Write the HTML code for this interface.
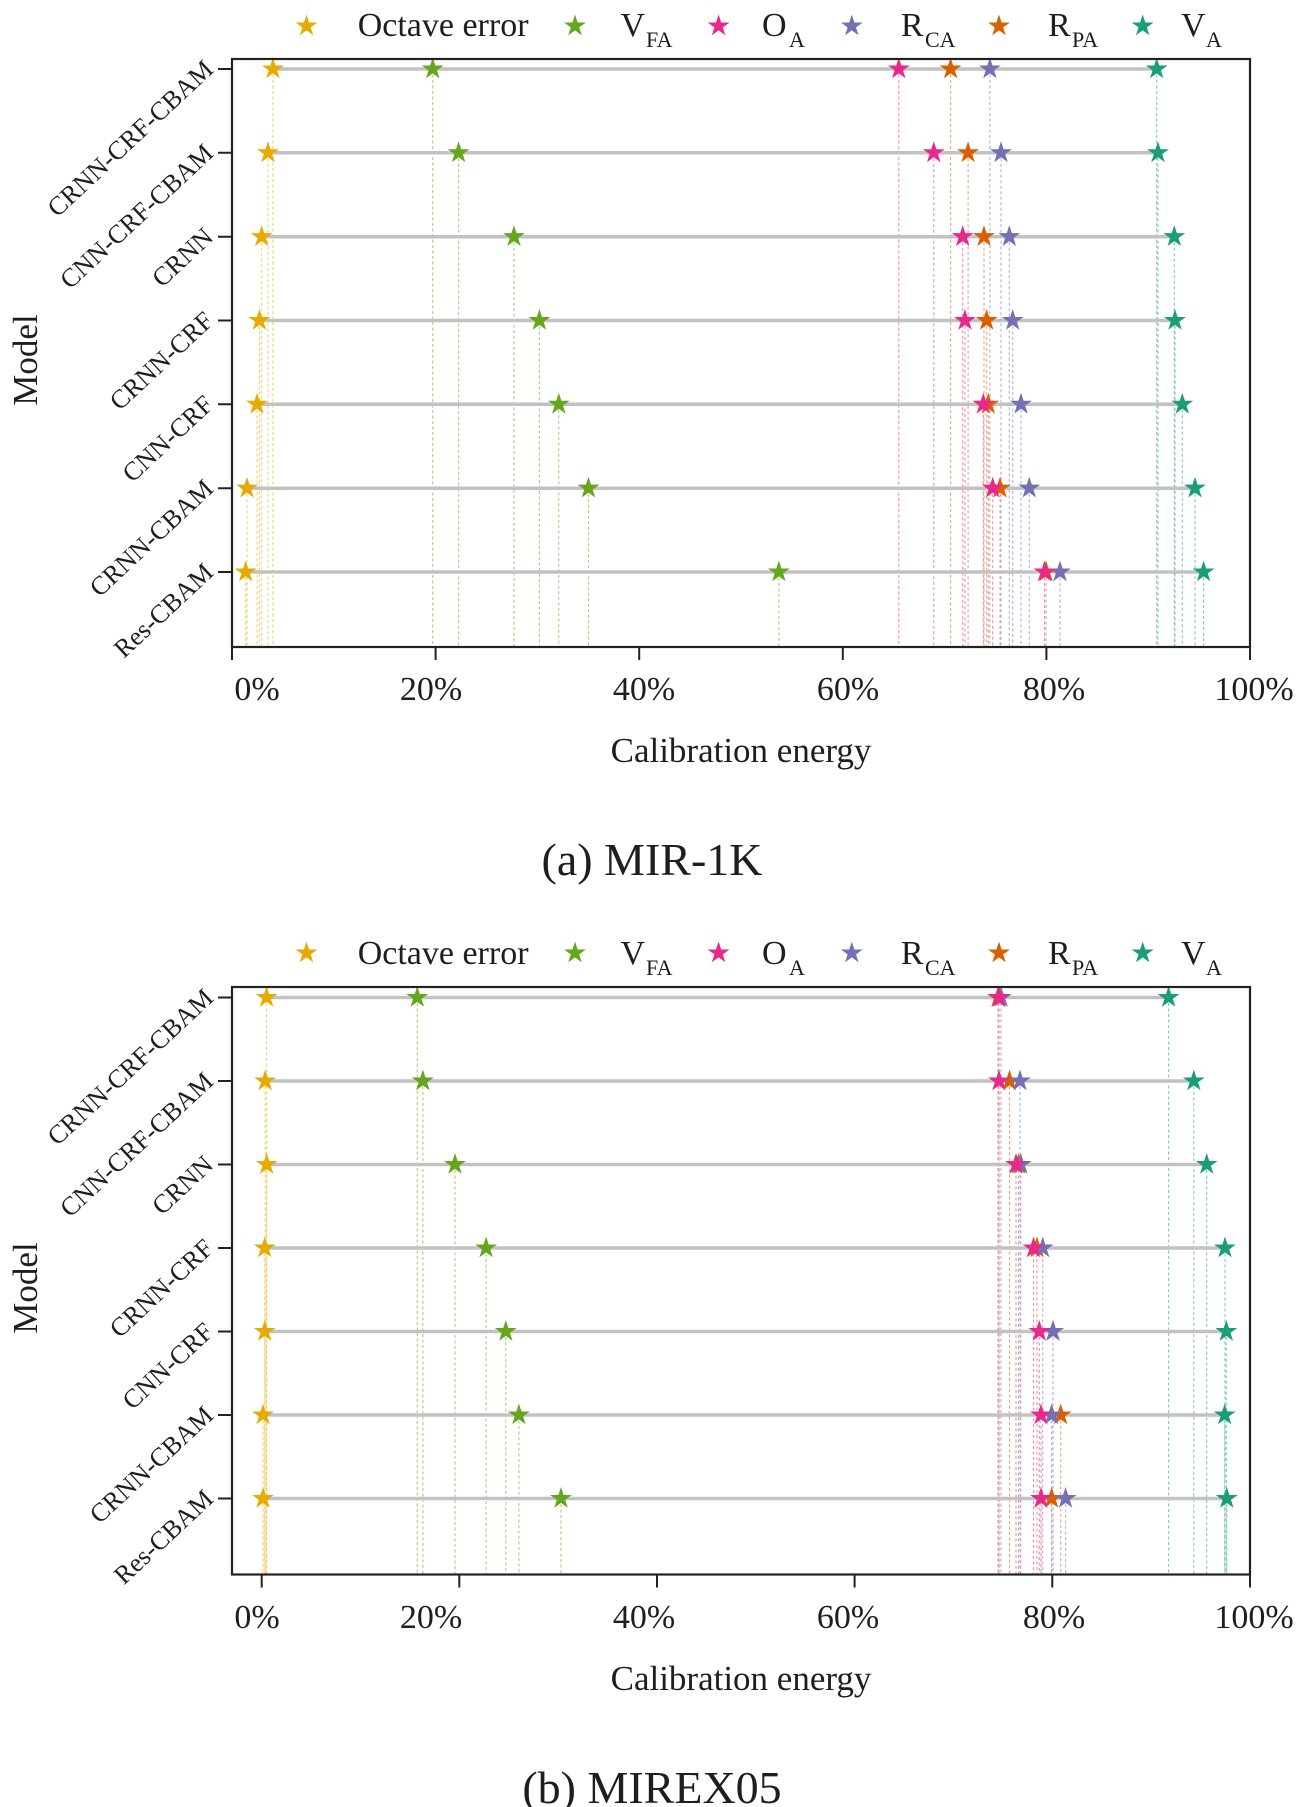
<!DOCTYPE html>
<html>
<head>
<meta charset="utf-8">
<style>
html,body{margin:0;padding:0;background:#fff;}
body{width:1299px;height:1807px;overflow:hidden;}
svg{display:block;}
text{font-family:"Liberation Serif","Times New Roman",serif;fill:#1e1e1e;}
</style>
</head>
<body>
<svg width="1299" height="1807" viewBox="0 0 1299 1807" xmlns="http://www.w3.org/2000/svg" xmlns:xlink="http://www.w3.org/1999/xlink">
<defs>
<polygon id="s" points="0,-11.5 2.582,-3.554 10.938,-3.554 4.178,1.357 6.76,9.304 0,4.393 -6.76,9.304 -4.178,1.357 -10.938,-3.554 -2.582,-3.554"/>
</defs>
<rect x="0" y="0" width="1299" height="1807" fill="#fff"/>

<!-- ================= PLOT A ================= -->
<g>
<g>
<use href="#s" xlink:href="#s" x="306.5" y="26" fill="#e6ab02"/>
<use href="#s" xlink:href="#s" x="575" y="26" fill="#66a61e"/>
<use href="#s" xlink:href="#s" x="718.6" y="26" fill="#e7298a"/>
<use href="#s" xlink:href="#s" x="851.8" y="26" fill="#7570b3"/>
<use href="#s" xlink:href="#s" x="999" y="26" fill="#d95f02"/>
<use href="#s" xlink:href="#s" x="1142.7" y="26" fill="#1b9e77"/>
<text x="357.7" y="36" font-size="34">Octave error</text>
<text x="620.5" y="36" font-size="34">V</text><text x="646" y="47" font-size="22">FA</text>
<text x="762" y="36" font-size="34">O</text><text x="789" y="47" font-size="22">A</text>
<text x="900.9" y="36" font-size="34">R</text><text x="925" y="47" font-size="22">CA</text>
<text x="1048" y="36" font-size="34">R</text><text x="1072" y="47" font-size="22">PA</text>
<text x="1181" y="36" font-size="34">V</text><text x="1206" y="47" font-size="22">A</text>
</g>

<g fill="none" stroke-width="1.1" stroke-dasharray="3 2.5" opacity="0.55">
<path stroke="#e6ab02" d="M272.9 69V647M268 152.8V647M261.7 236.7V647M259.4 320.5V647M257 404.3V647M247 488.2V647M245.7 572V647"/>
<path stroke="#66a61e" d="M432.7 69V647M458.6 152.8V647M514 236.7V647M539.4 320.5V647M558.8 404.3V647M588.5 488.2V647M778.9 572V647"/>
<path stroke="#e7298a" d="M898.8 69V647M933.8 152.8V647M962.7 236.7V647M965 320.5V647M983.3 404.3V647M992.7 488.2V647M1044.5 572V647"/>
<path stroke="#d95f02" d="M950.6 69V647M968.1 152.8V647M984 236.7V647M986.7 320.5V647M988.3 404.3V647M1000 488.2V647M1046 572V647"/>
<path stroke="#7570b3" d="M989.9 69V647M1001 152.8V647M1009.3 236.7V647M1012.7 320.5V647M1021 404.3V647M1029.3 488.2V647M1060 572V647"/>
<path stroke="#1b9e77" d="M1156.7 69V647M1158 152.8V647M1174.3 236.7V647M1175 320.5V647M1182.3 404.3V647M1195 488.2V647M1203.6 572V647"/>
</g>

<path fill="none" stroke="#c2c2c2" stroke-width="3.5" d="M272.9 69H1156.7M268 152.8H1158M261.7 236.7H1174.3M259.4 320.5H1175M257 404.3H1182.3M247 488.2H1195M245.7 572H1203.6"/>

<g fill="#e6ab02">
<use href="#s" xlink:href="#s" x="272.9" y="69"/><use href="#s" xlink:href="#s" x="268" y="152.8"/><use href="#s" xlink:href="#s" x="261.7" y="236.7"/><use href="#s" xlink:href="#s" x="259.4" y="320.5"/><use href="#s" xlink:href="#s" x="257" y="404.3"/><use href="#s" xlink:href="#s" x="247" y="488.2"/><use href="#s" xlink:href="#s" x="245.7" y="572"/>
</g>
<g fill="#66a61e">
<use href="#s" xlink:href="#s" x="432.7" y="69"/><use href="#s" xlink:href="#s" x="458.6" y="152.8"/><use href="#s" xlink:href="#s" x="514" y="236.7"/><use href="#s" xlink:href="#s" x="539.4" y="320.5"/><use href="#s" xlink:href="#s" x="558.8" y="404.3"/><use href="#s" xlink:href="#s" x="588.5" y="488.2"/><use href="#s" xlink:href="#s" x="778.9" y="572"/>
</g>
<g fill="#d95f02">
<use href="#s" xlink:href="#s" x="950.6" y="69"/><use href="#s" xlink:href="#s" x="968.1" y="152.8"/><use href="#s" xlink:href="#s" x="984" y="236.7"/><use href="#s" xlink:href="#s" x="986.7" y="320.5"/><use href="#s" xlink:href="#s" x="988.3" y="404.3"/><use href="#s" xlink:href="#s" x="1000" y="488.2"/><use href="#s" xlink:href="#s" x="1046" y="572"/>
</g>
<g fill="#7570b3">
<use href="#s" xlink:href="#s" x="989.9" y="69"/><use href="#s" xlink:href="#s" x="1001" y="152.8"/><use href="#s" xlink:href="#s" x="1009.3" y="236.7"/><use href="#s" xlink:href="#s" x="1012.7" y="320.5"/><use href="#s" xlink:href="#s" x="1021" y="404.3"/><use href="#s" xlink:href="#s" x="1029.3" y="488.2"/><use href="#s" xlink:href="#s" x="1060" y="572"/>
</g>
<g fill="#e7298a">
<use href="#s" xlink:href="#s" x="898.8" y="69"/><use href="#s" xlink:href="#s" x="933.8" y="152.8"/><use href="#s" xlink:href="#s" x="962.7" y="236.7"/><use href="#s" xlink:href="#s" x="965" y="320.5"/><use href="#s" xlink:href="#s" x="983.3" y="404.3"/><use href="#s" xlink:href="#s" x="992.7" y="488.2"/><use href="#s" xlink:href="#s" x="1044.5" y="572"/>
</g>
<g fill="#1b9e77">
<use href="#s" xlink:href="#s" x="1156.7" y="69"/><use href="#s" xlink:href="#s" x="1158" y="152.8"/><use href="#s" xlink:href="#s" x="1174.3" y="236.7"/><use href="#s" xlink:href="#s" x="1175" y="320.5"/><use href="#s" xlink:href="#s" x="1182.3" y="404.3"/><use href="#s" xlink:href="#s" x="1195" y="488.2"/><use href="#s" xlink:href="#s" x="1203.6" y="572"/>
</g>

<rect x="232" y="59" width="1018" height="588" fill="none" stroke="#222" stroke-width="2.2"/>
<path stroke="#222" stroke-width="2" d="M232 647V660M435.6 647V660M639.2 647V660M842.8 647V660M1046.4 647V660M1250 647V660"/>
<path stroke="#222" stroke-width="2" d="M218 69H232M218 152.8H232M218 236.7H232M218 320.5H232M218 404.3H232M218 488.2H232M218 572H232"/>

<g font-size="34" text-anchor="middle">
<text x="257" y="700">0%</text>
<text x="431" y="700">20%</text>
<text x="644" y="700">40%</text>
<text x="848" y="700">60%</text>
<text x="1054" y="700">80%</text>
<text x="1254" y="700">100%</text>
</g>
<g font-size="26" text-anchor="end" dominant-baseline="central">
<text transform="translate(209,65) rotate(-43)">CRNN-CRF-CBAM</text>
<text transform="translate(209,148.8) rotate(-43)">CNN-CRF-CBAM</text>
<text transform="translate(209,232.7) rotate(-43)">CRNN</text>
<text transform="translate(209,316.5) rotate(-43)">CRNN-CRF</text>
<text transform="translate(209,400.3) rotate(-43)">CNN-CRF</text>
<text transform="translate(209,484.2) rotate(-43)">CRNN-CBAM</text>
<text transform="translate(209,568) rotate(-43)">Res-CBAM</text>
</g>
<text x="741" y="762" font-size="35" text-anchor="middle">Calibration energy</text>
<text transform="translate(37,360) rotate(-90)" font-size="35" text-anchor="middle">Model</text>
<text x="652" y="875" font-size="46" text-anchor="middle">(a) MIR-1K</text>
</g>

<!-- ================= PLOT B ================= -->
<g transform="translate(0,928)">
<g>
<use href="#s" xlink:href="#s" x="306.5" y="25" fill="#e6ab02"/>
<use href="#s" xlink:href="#s" x="575" y="25" fill="#66a61e"/>
<use href="#s" xlink:href="#s" x="718.6" y="25" fill="#e7298a"/>
<use href="#s" xlink:href="#s" x="851.8" y="25" fill="#7570b3"/>
<use href="#s" xlink:href="#s" x="999" y="25" fill="#d95f02"/>
<use href="#s" xlink:href="#s" x="1142.7" y="25" fill="#1b9e77"/>
<text x="357.7" y="36" font-size="34">Octave error</text>
<text x="620.5" y="36" font-size="34">V</text><text x="646" y="47" font-size="22">FA</text>
<text x="762" y="36" font-size="34">O</text><text x="789" y="47" font-size="22">A</text>
<text x="900.9" y="36" font-size="34">R</text><text x="925" y="47" font-size="22">CA</text>
<text x="1048" y="36" font-size="34">R</text><text x="1072" y="47" font-size="22">PA</text>
<text x="1181" y="36" font-size="34">V</text><text x="1206" y="47" font-size="22">A</text>
</g>

<g fill="none" stroke-width="1.1" stroke-dasharray="3 2.5" opacity="0.55">
<path stroke="#e6ab02" d="M266.6 69.5V646.5M265.2 153V646.5M266.7 236.5V646.5M264.7 320V646.5M264.7 403.5V646.5M263 487V646.5M263 570.5V646.5"/>
<path stroke="#66a61e" d="M417.3 69.5V646.5M422.9 153V646.5M455 236.5V646.5M486.1 320V646.5M505.8 403.5V646.5M518.9 487V646.5M561 570.5V646.5"/>
<path stroke="#e7298a" d="M999 69.5V646.5M999 153V646.5M1016 236.5V646.5M1033.5 320V646.5M1039.3 403.5V646.5M1041 487V646.5M1041 570.5V646.5"/>
<path stroke="#d95f02" d="M998 69.5V646.5M1009.5 153V646.5M1018.5 236.5V646.5M1037 320V646.5M1053 403.5V646.5M1060.7 487V646.5M1051.6 570.5V646.5"/>
<path stroke="#7570b3" d="M1001 69.5V646.5M1020 153V646.5M1020.8 236.5V646.5M1042.7 320V646.5M1053 403.5V646.5M1051.6 487V646.5M1065.6 570.5V646.5"/>
<path stroke="#1b9e77" d="M1168.6 69.5V646.5M1193.8 153V646.5M1206.7 236.5V646.5M1225 320V646.5M1226.3 403.5V646.5M1224.7 487V646.5M1226.8 570.5V646.5"/>
</g>

<path fill="none" stroke="#c2c2c2" stroke-width="3.5" d="M266.6 69.5H1168.6M265.2 153H1193.8M266.7 236.5H1206.7M264.7 320H1225M264.7 403.5H1226.3M263 487H1224.7M263 570.5H1226.8"/>

<g fill="#e6ab02">
<use href="#s" xlink:href="#s" x="266.6" y="69.5"/><use href="#s" xlink:href="#s" x="265.2" y="153"/><use href="#s" xlink:href="#s" x="266.7" y="236.5"/><use href="#s" xlink:href="#s" x="264.7" y="320"/><use href="#s" xlink:href="#s" x="264.7" y="403.5"/><use href="#s" xlink:href="#s" x="263" y="487"/><use href="#s" xlink:href="#s" x="263" y="570.5"/>
</g>
<g fill="#66a61e">
<use href="#s" xlink:href="#s" x="417.3" y="69.5"/><use href="#s" xlink:href="#s" x="422.9" y="153"/><use href="#s" xlink:href="#s" x="455" y="236.5"/><use href="#s" xlink:href="#s" x="486.1" y="320"/><use href="#s" xlink:href="#s" x="505.8" y="403.5"/><use href="#s" xlink:href="#s" x="518.9" y="487"/><use href="#s" xlink:href="#s" x="561" y="570.5"/>
</g>
<g fill="#d95f02">
<use href="#s" xlink:href="#s" x="998" y="69.5"/><use href="#s" xlink:href="#s" x="1009.5" y="153"/><use href="#s" xlink:href="#s" x="1018.5" y="236.5"/><use href="#s" xlink:href="#s" x="1037" y="320"/><use href="#s" xlink:href="#s" x="1053" y="403.5"/><use href="#s" xlink:href="#s" x="1060.7" y="487"/><use href="#s" xlink:href="#s" x="1051.6" y="570.5"/>
</g>
<g fill="#7570b3">
<use href="#s" xlink:href="#s" x="1001" y="69.5"/><use href="#s" xlink:href="#s" x="1020" y="153"/><use href="#s" xlink:href="#s" x="1020.8" y="236.5"/><use href="#s" xlink:href="#s" x="1042.7" y="320"/><use href="#s" xlink:href="#s" x="1053" y="403.5"/><use href="#s" xlink:href="#s" x="1051.6" y="487"/><use href="#s" xlink:href="#s" x="1065.6" y="570.5"/>
</g>
<g fill="#e7298a">
<use href="#s" xlink:href="#s" x="999" y="69.5"/><use href="#s" xlink:href="#s" x="999" y="153"/><use href="#s" xlink:href="#s" x="1016" y="236.5"/><use href="#s" xlink:href="#s" x="1033.5" y="320"/><use href="#s" xlink:href="#s" x="1039.3" y="403.5"/><use href="#s" xlink:href="#s" x="1041" y="487"/><use href="#s" xlink:href="#s" x="1041" y="570.5"/>
</g>
<g fill="#1b9e77">
<use href="#s" xlink:href="#s" x="1168.6" y="69.5"/><use href="#s" xlink:href="#s" x="1193.8" y="153"/><use href="#s" xlink:href="#s" x="1206.7" y="236.5"/><use href="#s" xlink:href="#s" x="1225" y="320"/><use href="#s" xlink:href="#s" x="1226.3" y="403.5"/><use href="#s" xlink:href="#s" x="1224.7" y="487"/><use href="#s" xlink:href="#s" x="1226.8" y="570.5"/>
</g>

<rect x="232" y="59" width="1018" height="587.5" fill="none" stroke="#222" stroke-width="2.2"/>
<path stroke="#222" stroke-width="2" d="M261.7 646.5V659.5M459.3 646.5V659.5M657 646.5V659.5M854.6 646.5V659.5M1052.3 646.5V659.5M1250 646.5V659.5"/>
<path stroke="#222" stroke-width="2" d="M218 69.5H232M218 153H232M218 236.5H232M218 320H232M218 403.5H232M218 487H232M218 570.5H232"/>

<g font-size="34" text-anchor="middle">
<text x="257" y="700">0%</text>
<text x="431" y="700">20%</text>
<text x="644" y="700">40%</text>
<text x="848" y="700">60%</text>
<text x="1054" y="700">80%</text>
<text x="1254" y="700">100%</text>
</g>
<g font-size="26" text-anchor="end" dominant-baseline="central">
<text transform="translate(209,65.5) rotate(-43)">CRNN-CRF-CBAM</text>
<text transform="translate(209,149) rotate(-43)">CNN-CRF-CBAM</text>
<text transform="translate(209,232.5) rotate(-43)">CRNN</text>
<text transform="translate(209,316) rotate(-43)">CRNN-CRF</text>
<text transform="translate(209,399.5) rotate(-43)">CNN-CRF</text>
<text transform="translate(209,483) rotate(-43)">CRNN-CBAM</text>
<text transform="translate(209,566.5) rotate(-43)">Res-CBAM</text>
</g>
<text x="741" y="762" font-size="35" text-anchor="middle">Calibration energy</text>
<text transform="translate(37,360) rotate(-90)" font-size="35" text-anchor="middle">Model</text>
<text x="652" y="875" font-size="46" text-anchor="middle">(b) MIREX05</text>
</g>
</svg>
</body>
</html>
